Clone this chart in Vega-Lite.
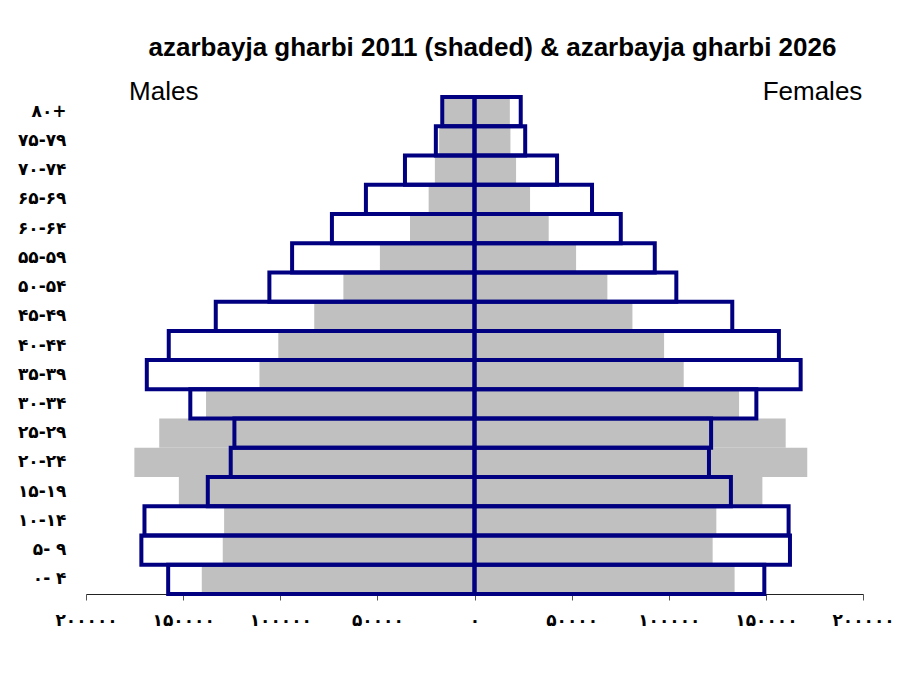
{
  "$schema": "https://vega.github.io/schema/vega-lite/v6.json",
  "width": 777,
  "height": 497,
  "autosize": {"type": "none"},
  "padding": {"left": 86, "top": 97, "right": 40, "bottom": 92},
  "background": "white",
  "config": {
    "view": {"stroke": null},
    "font": "Liberation Sans"
  },
  "title": {
    "text": "azarbayja gharbi 2011 (shaded) & azarbayja gharbi 2026",
    "fontSize": 26,
    "fontWeight": "bold",
    "color": "black",
    "font": "Liberation Sans",
    "anchor": "middle",
    "dx": 18,
    "offset": 18
  },
  "datasets": {
    "pyr": [
      {"age": "۸۰+", "sex": "M", "year": 2011, "pop": -16000},
      {"age": "۷۵-۷۹", "sex": "M", "year": 2011, "pop": -18200},
      {"age": "۷۰-۷۴", "sex": "M", "year": 2011, "pop": -20400},
      {"age": "۶۵-۶۹", "sex": "M", "year": 2011, "pop": -23600},
      {"age": "۶۰-۶۴", "sex": "M", "year": 2011, "pop": -33200},
      {"age": "۵۵-۵۹", "sex": "M", "year": 2011, "pop": -48700},
      {"age": "۵۰-۵۴", "sex": "M", "year": 2011, "pop": -67500},
      {"age": "۴۵-۴۹", "sex": "M", "year": 2011, "pop": -82500},
      {"age": "۴۰-۴۴", "sex": "M", "year": 2011, "pop": -101000},
      {"age": "۳۵-۳۹", "sex": "M", "year": 2011, "pop": -110700},
      {"age": "۳۰-۳۴", "sex": "M", "year": 2011, "pop": -138200},
      {"age": "۲۵-۲۹", "sex": "M", "year": 2011, "pop": -162300},
      {"age": "۲۰-۲۴", "sex": "M", "year": 2011, "pop": -175100},
      {"age": "۱۵-۱۹", "sex": "M", "year": 2011, "pop": -152200},
      {"age": "۱۰-۱۴", "sex": "M", "year": 2011, "pop": -128900},
      {"age": "۵- ۹", "sex": "M", "year": 2011, "pop": -129600},
      {"age": "۰- ۴", "sex": "M", "year": 2011, "pop": -140400},
      {"age": "۸۰+", "sex": "F", "year": 2011, "pop": 18200},
      {"age": "۷۵-۷۹", "sex": "F", "year": 2011, "pop": 18500},
      {"age": "۷۰-۷۴", "sex": "F", "year": 2011, "pop": 21400},
      {"age": "۶۵-۶۹", "sex": "F", "year": 2011, "pop": 28600},
      {"age": "۶۰-۶۴", "sex": "F", "year": 2011, "pop": 38200},
      {"age": "۵۵-۵۹", "sex": "F", "year": 2011, "pop": 52300},
      {"age": "۵۰-۵۴", "sex": "F", "year": 2011, "pop": 68400},
      {"age": "۴۵-۴۹", "sex": "F", "year": 2011, "pop": 81300},
      {"age": "۴۰-۴۴", "sex": "F", "year": 2011, "pop": 97600},
      {"age": "۳۵-۳۹", "sex": "F", "year": 2011, "pop": 107700},
      {"age": "۳۰-۳۴", "sex": "F", "year": 2011, "pop": 136200},
      {"age": "۲۵-۲۹", "sex": "F", "year": 2011, "pop": 160200},
      {"age": "۲۰-۲۴", "sex": "F", "year": 2011, "pop": 171300},
      {"age": "۱۵-۱۹", "sex": "F", "year": 2011, "pop": 148200},
      {"age": "۱۰-۱۴", "sex": "F", "year": 2011, "pop": 124500},
      {"age": "۵- ۹", "sex": "F", "year": 2011, "pop": 122600},
      {"age": "۰- ۴", "sex": "F", "year": 2011, "pop": 133900},
      {"age": "۸۰+", "sex": "M", "year": 2026, "pop": -16600},
      {"age": "۷۵-۷۹", "sex": "M", "year": 2026, "pop": -19900},
      {"age": "۷۰-۷۴", "sex": "M", "year": 2026, "pop": -35800},
      {"age": "۶۵-۶۹", "sex": "M", "year": 2026, "pop": -55900},
      {"age": "۶۰-۶۴", "sex": "M", "year": 2026, "pop": -73400},
      {"age": "۵۵-۵۹", "sex": "M", "year": 2026, "pop": -93900},
      {"age": "۵۰-۵۴", "sex": "M", "year": 2026, "pop": -105600},
      {"age": "۴۵-۴۹", "sex": "M", "year": 2026, "pop": -133200},
      {"age": "۴۰-۴۴", "sex": "M", "year": 2026, "pop": -157400},
      {"age": "۳۵-۳۹", "sex": "M", "year": 2026, "pop": -168700},
      {"age": "۳۰-۳۴", "sex": "M", "year": 2026, "pop": -146300},
      {"age": "۲۵-۲۹", "sex": "M", "year": 2026, "pop": -123600},
      {"age": "۲۰-۲۴", "sex": "M", "year": 2026, "pop": -125500},
      {"age": "۱۵-۱۹", "sex": "M", "year": 2026, "pop": -137300},
      {"age": "۱۰-۱۴", "sex": "M", "year": 2026, "pop": -169900},
      {"age": "۵- ۹", "sex": "M", "year": 2026, "pop": -171500},
      {"age": "۰- ۴", "sex": "M", "year": 2026, "pop": -157700},
      {"age": "۸۰+", "sex": "F", "year": 2026, "pop": 23800},
      {"age": "۷۵-۷۹", "sex": "F", "year": 2026, "pop": 26100},
      {"age": "۷۰-۷۴", "sex": "F", "year": 2026, "pop": 42500},
      {"age": "۶۵-۶۹", "sex": "F", "year": 2026, "pop": 60500},
      {"age": "۶۰-۶۴", "sex": "F", "year": 2026, "pop": 75300},
      {"age": "۵۵-۵۹", "sex": "F", "year": 2026, "pop": 92800},
      {"age": "۵۰-۵۴", "sex": "F", "year": 2026, "pop": 103900},
      {"age": "۴۵-۴۹", "sex": "F", "year": 2026, "pop": 132700},
      {"age": "۴۰-۴۴", "sex": "F", "year": 2026, "pop": 156700},
      {"age": "۳۵-۳۹", "sex": "F", "year": 2026, "pop": 167900},
      {"age": "۳۰-۳۴", "sex": "F", "year": 2026, "pop": 145100},
      {"age": "۲۵-۲۹", "sex": "F", "year": 2026, "pop": 121800},
      {"age": "۲۰-۲۴", "sex": "F", "year": 2026, "pop": 120700},
      {"age": "۱۵-۱۹", "sex": "F", "year": 2026, "pop": 132000},
      {"age": "۱۰-۱۴", "sex": "F", "year": 2026, "pop": 161700},
      {"age": "۵- ۹", "sex": "F", "year": 2026, "pop": 162400},
      {"age": "۰- ۴", "sex": "F", "year": 2026, "pop": 149200}
    ],
    "labels": [
      {"label": "Males", "x": -160000, "age": "۸۰+"},
      {"label": "Females", "x": 174000, "age": "۸۰+"}
    ]
  },
  "encoding": {
    "y": {
      "field": "age",
      "type": "nominal",
      "sort": ["۸۰+", "۷۵-۷۹", "۷۰-۷۴", "۶۵-۶۹", "۶۰-۶۴", "۵۵-۵۹", "۵۰-۵۴", "۴۵-۴۹", "۴۰-۴۴", "۳۵-۳۹", "۳۰-۳۴", "۲۵-۲۹", "۲۰-۲۴", "۱۵-۱۹", "۱۰-۱۴", "۵- ۹", "۰- ۴"],
      "scale": {"paddingInner": 0, "paddingOuter": 0},
      "axis": {
        "title": null,
        "domain": false,
        "ticks": false,
        "labelPadding": 20,
        "labelFont": "DejaVu Sans",
        "labelFontSize": 17,
        "labelFontWeight": "bold",
        "labelColor": "black"
      }
    }
  },
  "layer": [
    {
      "data": {"name": "pyr"},
      "transform": [{"filter": "datum.year == 2011"}],
      "mark": {"type": "bar", "color": "#c0c0c0", "stroke": null},
      "encoding": {
        "x": {
          "field": "pop",
          "type": "quantitative",
          "stack": null,
          "scale": {"domain": [-200000, 200000], "nice": false},
          "axis": {
            "title": null,
            "grid": false,
            "values": [-200000, -150000, -100000, -50000, 0, 50000, 100000, 150000, 200000],
            "labelExpr": "abs(datum.value)==200000?'۲۰۰۰۰۰':abs(datum.value)==150000?'۱۵۰۰۰۰':abs(datum.value)==100000?'۱۰۰۰۰۰':abs(datum.value)==50000?'۵۰۰۰۰':'۰'",
            "labelFont": "DejaVu Sans",
            "labelFontSize": 17,
            "labelFontWeight": "bold",
            "labelColor": "black",
            "labelPadding": 12,
            "tickSize": 6,
            "tickColor": "#555555",
            "domainColor": "#222222",
            "labelFlush": false
          }
        }
      }
    },
    {
      "data": {"name": "pyr"},
      "transform": [{"filter": "datum.year == 2026"}],
      "mark": {"type": "bar", "fill": "transparent", "stroke": "#000080", "strokeWidth": 4},
      "encoding": {
        "x": {"field": "pop", "type": "quantitative", "stack": null}
      }
    },
    {
      "data": {"name": "labels"},
      "mark": {"type": "text", "fontSize": 26, "font": "Liberation Sans", "color": "black", "dy": -20, "baseline": "middle", "align": "center"},
      "encoding": {
        "x": {"field": "x", "type": "quantitative"},
        "text": {"field": "label"}
      }
    }
  ]
}
